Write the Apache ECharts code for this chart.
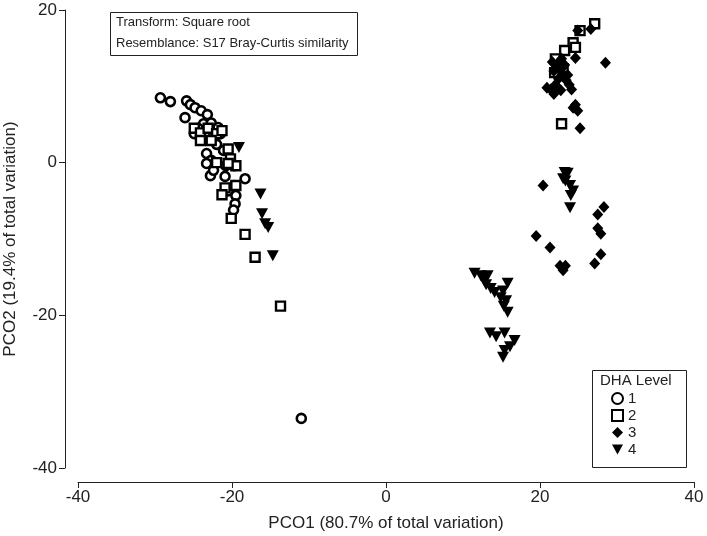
<!DOCTYPE html>
<html>
<head>
<meta charset="utf-8">
<script src="https://cdn.jsdelivr.net/npm/echarts@6/dist/echarts.min.js"></script>
<style>html,body{margin:0;padding:0;background:#fff;}#c{width:707px;height:536px;}</style>
</head>
<body>
<div id="c"></div>
<script>
const xTicks = [-40, -20, 0, 20, 40];
const yTicks = [-40, -20, 0, 20];
const levels = ['1', '2', '3', '4'];

const level1 = [
  [-29.3,8.5],[-28.0,8.0],[-25.9,8.1],[-25.4,7.6],[-24.8,7.2],[-24.0,6.8],[-26.1,5.9],[-23.2,6.3],
  [-23.7,5.1],[-22.7,5.2],[-21.8,4.6],[-21.5,3.8],[-22.3,2.9],[-24.9,3.8],[-24.4,4.5],[-23.5,3.7],
  [-22.0,2.4],[-21.1,1.6],[-23.3,1.2],[-22.7,0.3],[-23.3,-0.1],[-20.8,-0.4],[-19.7,-0.4],[-22.8,-1.7],
  [-20.9,-1.8],[-22.4,-1.0],[-18.3,-2.1],[-19.7,-3.0],[-19.5,-4.3],[-19.6,-5.4],[-19.8,-6.2],[-20.5,-3.7],
  [-11.0,-33.5]
];
const level2 = [
  [-24.9,4.5],[-24.1,3.9],[-23.1,4.5],[-22.0,3.8],[-21.3,4.2],[-24.1,2.9],[-22.7,2.9],[-20.5,1.8],
  [-20.2,0.5],[-19.5,-0.4],[-20.5,-0.1],[-22.0,0.0],[-20.9,-3.3],[-19.5,-3.0],[-21.3,-4.2],[-20.1,-7.3],
  [-18.3,-9.4],[-17.0,-12.4],[-13.7,-18.8],
  [25.2,17.3],[27.1,18.2],[24.3,15.7],[24.6,15.1],[23.2,14.7],[22.4,13.1],[21.9,11.8],[22.8,5.1],
  [22.0,13.6],[23.0,12.3]
];
const level3 = [
  [24.9,17.3],[26.6,17.5],[24.6,13.7],[28.5,13.1],
  [21.8,12.0],[22.3,13.0],[22.6,12.4],[23.0,11.6],[22.4,11.0],[23.4,10.8],[22.0,10.2],[21.4,9.6],
  [21.8,9.0],[22.7,9.5],[23.8,10.2],[24.1,9.6],[23.2,12.8],[22.8,13.6],[21.6,13.2],[23.6,11.5],[20.9,9.8],
  [24.3,7.2],[24.9,6.8],[24.6,7.6],[25.2,4.5],
  [20.4,-3.0],[28.3,-5.8],[27.5,-6.8],[27.5,-8.6],[27.9,-9.3],[19.5,-9.6],[21.3,-11.1],[22.6,-13.5],
  [23.3,-13.5],[23.0,-14.1],[27.9,-12.0],[27.1,-13.2]
];
const level4 = [
  [-19.1,2.0],[-16.3,-4.1],[-16.1,-6.7],[-15.3,-8.5],[-15.7,-8.0],[-14.7,-12.2],
  [23.2,-1.3],[23.6,-1.4],[23.0,-2.1],[23.3,-2.4],[23.9,-3.0],[24.3,-3.7],[24.0,-4.3],[23.9,-5.9],
  [11.5,-14.5],[12.3,-14.8],[13.2,-14.8],[12.7,-15.4],[13.0,-16.0],[13.6,-16.5],[14.1,-17.0],[15.8,-15.8],
  [15.2,-16.8],[14.9,-17.7],[15.6,-18.1],[15.3,-18.8],[15.8,-19.6],
  [13.5,-22.3],[14.3,-22.8],[15.4,-22.3],[16.7,-23.3],[16.1,-24.1],[15.4,-24.6],[15.2,-25.5]
];

const FONT = '"Liberation Sans", Arial, sans-serif';
const chart = echarts.init(document.getElementById('c'));
const tri = 'path://M0,0 L10,0 L5,9 Z';
chart.setOption({
  animation: false,
  backgroundColor: '#fff',
  textStyle: { fontFamily: FONT },
  grid: { left: 78, right: 13, top: 10, bottom: 68, containLabel: false, outerBoundsMode: 'none' },
  xAxis: {
    type: 'value', min: -40, max: 40, interval: 20, offset: 14,
    name: 'PCO1 (80.7% of total variation)', nameLocation: 'middle', nameGap: 33,
    nameTextStyle: { fontSize: 17, color: '#222', fontFamily: FONT },
    axisLine: { show: true, onZero: false, lineStyle: { color: '#222', width: 1 } },
    axisTick: { show: true, length: 6, inside: false, lineStyle: { color: '#222' } },
    axisLabel: { fontSize: 17, color: '#222', margin: 7, fontFamily: FONT },
    splitLine: { show: false }
  },
  yAxis: {
    type: 'value', min: -40, max: 20, interval: 20, offset: 13,
    name: 'PCO2 (19.4% of total variation)', nameLocation: 'middle', nameGap: 46,
    nameTextStyle: { fontSize: 17, color: '#222', fontFamily: FONT },
    axisLine: { show: true, onZero: false, lineStyle: { color: '#222', width: 1 } },
    axisTick: { show: true, length: 6, inside: false, lineStyle: { color: '#222' } },
    axisLabel: { fontSize: 17, color: '#222', margin: 8, fontFamily: FONT },
    splitLine: { show: false }
  },
  legend: {
    orient: 'vertical', left: 611, top: 391, itemWidth: 11, itemHeight: 11, itemGap: 2,
    textStyle: { fontSize: 15, color: '#222', fontFamily: FONT },
    data: levels, padding: 0
  },
  graphic: [
    { type: 'rect', shape: { x: 110.5, y: 12.5, width: 247, height: 43 },
      style: { fill: '#fff', stroke: '#222', lineWidth: 1 }, z: 10 },
    { type: 'text', x: 116, y: 16, z: 11,
      style: { text: 'Transform: Square root', font: '13px ' + FONT, fill: '#222' } },
    { type: 'text', x: 116, y: 37, z: 11,
      style: { text: 'Resemblance: S17 Bray-Curtis similarity', font: '13px ' + FONT, fill: '#222' } },
    { type: 'rect', shape: { x: 592.5, y: 370.5, width: 94, height: 97 },
      style: { fill: '#fff', stroke: '#222', lineWidth: 1 }, z: 1 },
    { type: 'text', x: 600, y: 373, z: 11,
      style: { text: 'DHA Level', font: '15px ' + FONT, fill: '#222' } }
  ],
  series: [
    { name: '1', type: 'scatter', data: level1, symbol: 'circle', symbolSize: 9,
      itemStyle: { color: '#fff', borderColor: '#000', borderWidth: 2.6, opacity: 1 } },
    { name: '2', type: 'scatter', data: level2, symbol: 'rect', symbolSize: 9,
      itemStyle: { color: '#fff', borderColor: '#000', borderWidth: 2.4, opacity: 1 } },
    { name: '3', type: 'scatter', data: level3, symbol: 'diamond', symbolSize: [11, 12],
      itemStyle: { color: '#000', opacity: 1 } },
    { name: '4', type: 'scatter', data: level4, symbol: tri, symbolSize: [12, 11],
      itemStyle: { color: '#000', opacity: 1 } }
  ]
});
</script>
</body>
</html>
